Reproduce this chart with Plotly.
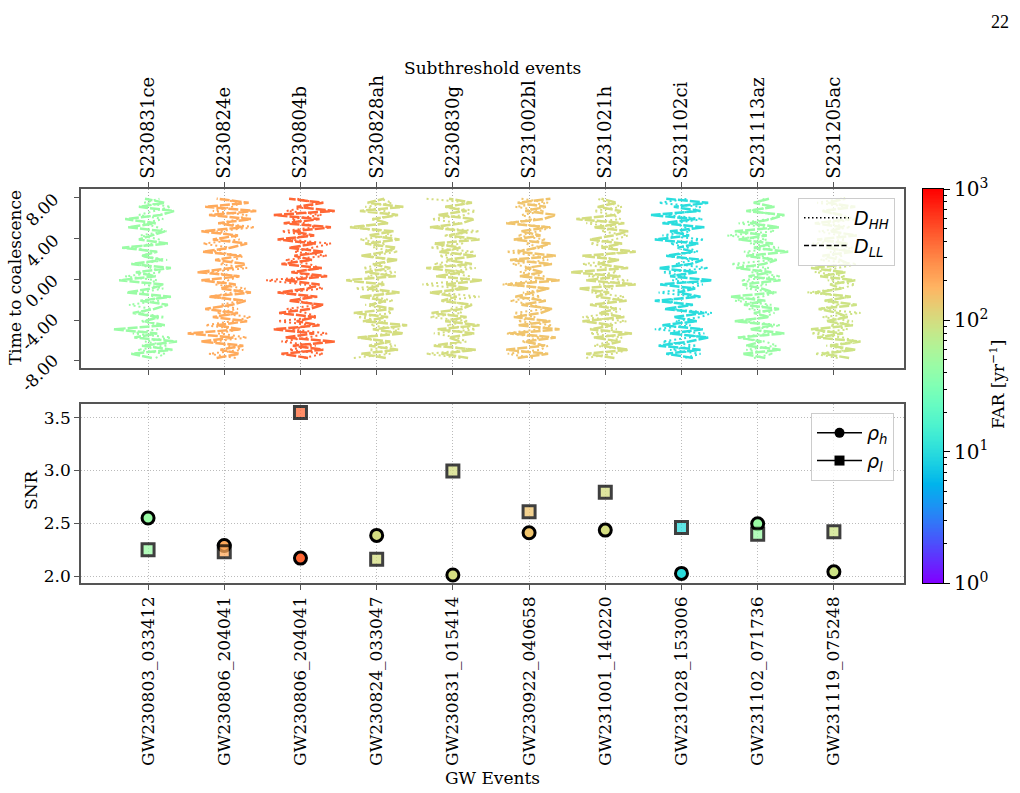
import numpy as np
import plotly.graph_objects as go

sub_events = ["S230831ce", "S230824e", "S230804b", "S230828ah", "S230830g",
              "S231002bl", "S231021h", "S231102ci", "S231113az", "S231205ac"]
gw_events = ["GW230803_033412", "GW230806_204041", "GW230806_204041", "GW230824_033047",
             "GW230831_015414", "GW230922_040658", "GW231001_140220", "GW231028_153006",
             "GW231102_071736", "GW231119_075248"]
far = [45, 200, 400, 100, 100, 145, 100, 10, 45, 90]
rho_h = [2.55, 2.29, 2.17, 2.385, 2.01, 2.41, 2.435, 2.025, 2.495, 2.04]
rho_l = [2.25, 2.23, 3.55, 2.16, 2.995, 2.61, 2.795, 2.46, 2.395, 2.42]
time_ticks = [-8, -4, 0, 4, 8]
time_tick_text = ["-8.00", "-4.00", "0.00", "4.00", "8.00"]
snr_ticks = [2.0, 2.5, 3.0, 3.5]

# waveform offsets (bottom -> top), in column units
d_ll = [
    [0.05,-0.22,0.32,-0.08,0.38,-0.18,0.12,-0.45,0.22,-0.05,0.14,-0.20,0.08,0.26,-0.10,0.30,-0.28,0.04,0.20,-0.38,0.10,-0.16,0.30,-0.22,0.18,-0.08,0.12,-0.34,0.26,-0.12,0.05,0.22,-0.26,0.10,-0.30,0.16,0.34,-0.12,0.22,-0.04],
    [-0.10,0.20,-0.05,0.25,-0.30,0.12,-0.48,0.22,-0.10,0.30,-0.15,0.18,-0.25,0.10,0.28,-0.20,0.35,-0.05,0.15,-0.30,0.20,-0.35,0.10,0.28,-0.12,0.22,-0.28,0.08,0.30,-0.15,0.18,-0.30,0.25,-0.08,0.35,-0.20,0.42,-0.25,0.32,-0.10],
    [0.10,-0.25,0.30,-0.10,0.45,-0.20,0.18,-0.35,0.25,-0.05,0.20,-0.28,0.12,0.30,-0.15,0.22,-0.30,0.10,0.25,-0.20,0.35,-0.12,0.28,-0.25,0.15,-0.08,0.30,-0.15,0.20,-0.30,0.18,-0.10,0.40,-0.22,0.25,-0.35,0.45,-0.05,0.30,-0.15],
    [0.12,-0.20,0.28,-0.10,0.18,-0.25,0.35,-0.05,0.40,-0.18,0.15,-0.30,0.22,-0.08,0.12,-0.22,0.30,-0.12,0.10,-0.40,0.25,-0.15,0.18,-0.05,0.28,-0.20,0.12,0.25,-0.15,0.30,-0.10,0.22,-0.35,0.15,-0.05,0.28,-0.22,0.35,-0.12,0.10],
    [0.20,-0.15,0.30,-0.25,0.10,-0.05,0.28,-0.20,0.35,-0.10,0.18,-0.28,0.12,0.25,-0.15,0.05,-0.30,0.20,-0.10,0.38,-0.22,0.15,-0.35,0.25,-0.08,0.30,-0.18,0.10,-0.25,0.35,-0.05,0.20,-0.30,0.12,0.28,-0.20,0.18,-0.10,0.25,-0.05],
    [-0.15,0.25,-0.30,0.20,-0.05,0.35,-0.25,0.40,-0.15,0.28,-0.20,0.15,0.30,-0.10,0.22,-0.18,0.05,0.25,-0.28,0.40,-0.12,0.18,-0.05,0.30,-0.25,0.35,-0.15,0.10,0.28,-0.20,0.15,-0.10,0.25,-0.30,0.18,0.35,-0.05,0.22,-0.15,0.28],
    [0.12,-0.25,0.30,-0.05,0.20,-0.15,0.35,-0.20,0.10,-0.30,0.25,-0.08,0.15,-0.20,0.28,-0.12,0.05,-0.35,0.40,-0.25,0.20,-0.45,0.30,-0.10,0.18,-0.30,0.40,-0.05,0.22,-0.20,0.10,0.30,-0.15,0.25,-0.38,0.12,0.20,-0.10,0.15,-0.05],
    [0.15,-0.20,0.25,-0.30,0.10,0.35,-0.15,0.28,-0.25,0.20,-0.10,0.30,-0.22,0.15,-0.35,0.25,-0.05,0.18,-0.28,0.40,-0.15,0.20,-0.30,0.12,0.28,-0.20,0.15,-0.05,0.22,-0.35,0.10,-0.15,0.30,-0.25,0.18,-0.40,0.25,-0.10,0.35,-0.20],
    [0.10,-0.20,0.30,-0.15,0.05,-0.25,0.35,-0.10,0.20,-0.30,0.15,-0.05,0.28,-0.18,0.10,-0.35,0.22,0.05,-0.20,0.30,-0.12,0.18,-0.28,0.08,0.25,-0.15,0.40,-0.05,0.20,-0.25,0.12,-0.30,0.28,-0.10,0.18,0.35,-0.15,0.22,-0.05,0.15],
    [0.20,-0.15,0.28,-0.05,0.35,-0.22,0.12,-0.30,0.25,-0.10,0.18,0.05,-0.20,0.30,-0.12,0.22,-0.25,0.10,-0.05,0.28,-0.18,0.15,-0.30,0.20,0.08,-0.15,0.25,-0.10,0.18,-0.22,0.30,-0.05,0.12,-0.25,0.20,0.10,-0.15,0.28,-0.08,0.15],
]
d_hh = [
    [0.10,0.22,-0.14,0.26,-0.04,0.30,-0.20,0.12,0.18,-0.10,0.22,-0.12,0.05,-0.25,0.15,0.08,-0.10,0.20,-0.05,0.12,-0.30,0.18,0.05,-0.15,0.25,-0.08,0.10,-0.22,0.06,0.15,-0.10,0.24,0.12,-0.06,0.20,-0.12,0.08,0.30,-0.05,0.15],
    [0.15,-0.20,0.25,0.05,-0.15,0.30,-0.08,0.20,-0.25,0.12,0.35,-0.10,0.18,-0.05,0.22,-0.18,0.10,0.28,-0.12,0.05,0.20,-0.22,0.30,-0.06,0.14,0.25,-0.15,0.08,-0.28,0.20,0.12,-0.10,0.40,-0.05,0.18,0.30,-0.15,0.10,0.22,-0.08],
    [0.05,0.30,-0.15,0.20,-0.25,0.10,0.35,-0.12,0.15,-0.30,0.22,0.08,-0.18,0.25,-0.06,0.12,-0.22,0.30,0.05,-0.45,0.18,-0.10,0.25,0.12,-0.20,0.35,-0.08,0.15,0.40,-0.15,0.10,-0.25,0.20,0.05,-0.12,0.28,-0.18,0.10,0.22,-0.05],
    [-0.30,0.18,-0.10,0.25,0.05,-0.20,0.15,0.30,-0.08,0.12,-0.25,0.20,0.08,-0.15,0.22,-0.05,0.18,-0.28,0.10,0.05,-0.12,0.25,-0.18,0.08,0.15,-0.10,0.28,-0.05,0.12,-0.22,0.20,0.05,-0.30,0.15,-0.08,0.25,0.10,-0.15,0.20,0.05],
    [0.10,-0.35,0.25,-0.12,0.18,0.05,-0.25,0.30,-0.08,0.20,-0.30,0.12,-0.05,0.25,-0.15,0.35,-0.20,0.08,-0.40,0.15,0.22,-0.10,0.30,-0.25,0.05,-0.18,0.28,-0.30,0.12,0.20,-0.12,0.35,-0.22,0.08,-0.28,0.15,0.30,-0.10,0.25,-0.35],
    [0.05,-0.28,0.15,0.25,-0.10,0.18,-0.30,0.12,0.30,-0.15,0.08,-0.20,0.22,0.05,-0.25,0.15,-0.08,0.28,-0.35,0.10,0.20,-0.12,0.05,-0.22,0.25,0.10,-0.30,0.18,-0.05,0.22,-0.15,0.12,0.30,-0.28,0.08,-0.10,0.20,-0.18,0.25,-0.10],
    [-0.25,0.10,0.30,-0.15,0.05,0.22,-0.20,0.15,-0.05,0.28,-0.30,0.12,0.20,-0.10,0.05,0.25,-0.18,0.10,-0.08,0.30,-0.22,0.15,0.05,-0.30,0.18,-0.12,0.25,0.08,-0.20,0.12,0.30,-0.05,0.15,-0.25,0.20,0.10,-0.15,0.22,0.05,-0.10],
    [0.05,0.25,-0.15,0.20,-0.25,0.10,0.30,-0.35,0.12,-0.08,0.25,0.40,-0.15,0.08,-0.22,0.18,-0.30,0.10,0.28,-0.12,0.05,-0.25,0.35,-0.08,0.15,-0.20,0.22,0.08,-0.15,0.30,-0.25,0.12,0.05,-0.10,0.28,-0.18,0.15,0.25,-0.30,0.10],
    [-0.05,0.20,-0.15,0.25,0.10,-0.28,0.15,-0.05,0.30,-0.20,0.08,0.22,-0.12,0.18,-0.30,0.05,0.25,-0.15,0.12,-0.22,0.30,-0.08,0.15,-0.35,0.20,0.05,-0.18,0.28,-0.10,0.12,-0.40,0.22,0.08,-0.25,0.15,0.30,-0.12,0.20,-0.05,0.10],
    [0.05,-0.25,0.20,-0.10,0.30,0.12,-0.30,0.18,-0.05,0.25,-0.15,0.35,-0.20,0.08,-0.12,0.22,-0.35,0.10,0.28,-0.08,0.15,-0.25,0.05,0.30,-0.18,0.12,-0.05,0.25,-0.28,0.15,0.08,-0.20,0.22,-0.10,0.30,0.05,-0.15,0.18,-0.22,0.10],
]
t_start, t_end = -7.7, 7.9


def rainbow(v):
    v = min(max(v, 0.0), 1.0)
    r = min(1.0, abs(2 * v - 0.5))
    g = np.sin(np.pi * v)
    b = np.cos(np.pi * v / 2)
    return "rgb(%d,%d,%d)" % (round(r * 255), round(g * 255), round(max(b, 0) * 255))


def far_color(f):
    return rainbow(np.log10(f) / 3.0)


rainbow_scale = [[i / 20, rainbow(i / 20)] for i in range(21)]

SERIF = "DejaVu Serif"
fig = go.Figure()

# top panel waveforms
for i in range(len(sub_events)):
    col = far_color(far[i])
    n = len(d_ll[i])
    t = np.linspace(t_start, t_end, n)
    fig.add_trace(go.Scatter(x=[i + v for v in d_hh[i]], y=t, mode="lines",
                             line=dict(color=col, width=2, dash="2px,3px"),
                             showlegend=False, hoverinfo="skip", xaxis="x", yaxis="y"))
    fig.add_trace(go.Scatter(x=[i + v for v in d_ll[i]], y=t, mode="lines",
                             line=dict(color=col, width=2.5, dash="10px,2px"),
                             showlegend=False, hoverinfo="skip", xaxis="x", yaxis="y"))

# top legend entries
fig.add_trace(go.Scatter(x=[None], y=[None], mode="lines", line=dict(color="black", width=1.5, dash="1.5px,2.5px"),
                         name="<i>D</i><sub><i>HH</i></sub>", legend="legend", xaxis="x", yaxis="y"))
fig.add_trace(go.Scatter(x=[None], y=[None], mode="lines", line=dict(color="black", width=1.5, dash="5px,2.5px"),
                         name="<i>D</i><sub><i>LL</i></sub>", legend="legend", xaxis="x", yaxis="y"))

# bottom panel SNR points
xs = list(range(len(gw_events)))
fig.add_trace(go.Scatter(x=xs, y=rho_h, mode="markers",
                         marker=dict(symbol="circle", size=12, color=[far_color(f) for f in far],
                                     line=dict(color="black", width=3)),
                         showlegend=False, xaxis="x2", yaxis="y2"))
fig.add_trace(go.Scatter(x=xs, y=rho_l, mode="markers",
                         marker=dict(symbol="square", size=12, color=[far_color(f) for f in far],
                                     opacity=0.75, line=dict(color="black", width=3)),
                         showlegend=False, xaxis="x2", yaxis="y2"))
fig.add_trace(go.Scatter(x=[None], y=[None], mode="lines+markers",
                         line=dict(color="black", width=1.5),
                         marker=dict(symbol="circle", size=10, color="black"),
                         name="<i>ρ</i><sub><i>h</i></sub>", legend="legend2", xaxis="x2", yaxis="y2"))
fig.add_trace(go.Scatter(x=[None], y=[None], mode="lines+markers",
                         line=dict(color="black", width=1.5),
                         marker=dict(symbol="square", size=10, color="black"),
                         name="<i>ρ</i><sub><i>l</i></sub>", legend="legend2", xaxis="x2", yaxis="y2"))

# colorbar drawn as heatmap
cb_vals = np.linspace(0, 3, 300)
fig.add_trace(go.Heatmap(z=[[v] for v in cb_vals], x=[0], y=cb_vals, colorscale=rainbow_scale,
                         zmin=0, zmax=3, showscale=False, hoverinfo="skip", xaxis="x3", yaxis="y3"))

W, H = 1020, 793
def px(x):
    return x / W
def py(y):
    return 1 - y / H

xdom = [px(81), px(904)]
xr = [-0.88, 9.92]
axis_line = "#555555"
tickfont = dict(family=SERIF, size=17, color="black")
toptickfont = dict(family=SERIF, size=18, color="black")
GRID_DASH = "1px,2px"


def label(text, x, y, angle=0, size=17, family=SERIF):
    return dict(text=text, x=px(x), y=py(y), xref="paper", yref="paper", xanchor="center",
                yanchor="middle", showarrow=False, textangle=angle,
                font=dict(family=family, size=size, color="black"))


annotations = [
    label("Subthreshold events", 492, 68),
    label("GW Events", 492, 778),
    label("Time to coalescence", 15, 278, angle=-90),
    label("SNR", 31, 490, angle=-90),
    label("FAR [yr<sup>−1</sup>]", 997, 385, angle=-90),
    label("22", 1000, 22, size=18, family="Liberation Serif"),
]
# rotated time tick labels, placed through the y axis scale
for tv, tt in zip(time_ticks, time_tick_text):
    annotations.append(dict(text=tt, x=px(65), y=tv, xref="paper", yref="y", xanchor="right",
                            yanchor="middle", yshift=-12, showarrow=False, textangle=-45,
                            font=dict(family=SERIF, size=17, color="black")))

fig.update_layout(
    template="none",
    width=W, height=H,
    margin=dict(l=0, r=0, t=0, b=0, pad=0),
    paper_bgcolor="white", plot_bgcolor="white",
    font=dict(family=SERIF, size=17, color="black"),
    xaxis=dict(domain=xdom, anchor="y", range=xr, side="top", tickmode="array", automargin=False,
               tickvals=xs, ticktext=sub_events, tickangle=-90, ticks="outside", ticklen=5,
               tickcolor=axis_line, showline=True, linecolor=axis_line, linewidth=1.5, mirror="ticks",
               showgrid=True, griddash=GRID_DASH, gridcolor="#aaaaaa", zeroline=False, tickfont=toptickfont),
    yaxis=dict(domain=[py(368), py(189)], anchor="x", range=[-8.69, 8.85], tickmode="array", automargin=False,
               tickvals=time_ticks, showticklabels=False,
               ticks="outside", ticklen=5, tickcolor=axis_line,
               showline=True, linecolor=axis_line, linewidth=1.5, mirror=True,
               showgrid=False, zeroline=False),
    xaxis2=dict(domain=xdom, anchor="y2", range=xr, tickmode="array", tickvals=xs, ticktext=gw_events,
                tickangle=-90, ticks="outside", ticklen=5, tickcolor=axis_line, automargin=False,
                showline=True, linecolor=axis_line, linewidth=1.5, mirror=True,
                showgrid=True, griddash=GRID_DASH, gridcolor="#bbbbbb", zeroline=False, tickfont=tickfont),
    yaxis2=dict(domain=[py(583), py(404)], anchor="x2", range=[1.934, 3.63], tickmode="array",
                tickvals=snr_ticks, ticktext=["%.1f" % v for v in snr_ticks], automargin=False,
                ticks="outside", ticklen=5, tickcolor=axis_line,
                showline=True, linecolor=axis_line, linewidth=1.5, mirror=True,
                showgrid=True, griddash=GRID_DASH, gridcolor="#bbbbbb", zeroline=False, tickfont=tickfont),
    xaxis3=dict(domain=[px(923), px(943)], anchor="y3", range=[-0.5, 0.5], showticklabels=False,
                ticks="", showgrid=False, zeroline=False, showline=True, linecolor="black",
                linewidth=1, mirror=True, automargin=False),
    yaxis3=dict(domain=[py(583), py(189)], anchor="x3", range=[0, 3], side="right", automargin=False,
                tickmode="array", tickvals=[0, 1, 2, 3],
                ticktext=["10<sup>0</sup>", "10<sup>1</sup>", "10<sup>2</sup>", "10<sup>3</sup>"],
                ticks="outside", ticklen=6, tickcolor="black", showgrid=False, zeroline=False,
                showline=True, linecolor="black", linewidth=1, mirror=True,
                tickfont=dict(family=SERIF, size=20, color="black"),
                minor=dict(tickmode="array",
                           tickvals=[float(np.log10(k * 10 ** e)) for e in range(3) for k in range(2, 10)],
                           ticks="outside", ticklen=3, tickcolor="black", showgrid=False)),
    legend=dict(x=px(798), y=py(198), xanchor="left", yanchor="top", itemwidth=45,
                bgcolor="rgba(255,255,255,0.8)", bordercolor="#cccccc", borderwidth=1,
                font=dict(family="DejaVu Sans", size=19, color="black")),
    legend2=dict(x=px(811), y=py(413), xanchor="left", yanchor="top", itemwidth=45,
                 bgcolor="rgba(255,255,255,0.8)", bordercolor="#cccccc", borderwidth=1,
                 font=dict(family="DejaVu Sans", size=19, color="black")),
    annotations=annotations,
)

fig.write_html("out.html")
